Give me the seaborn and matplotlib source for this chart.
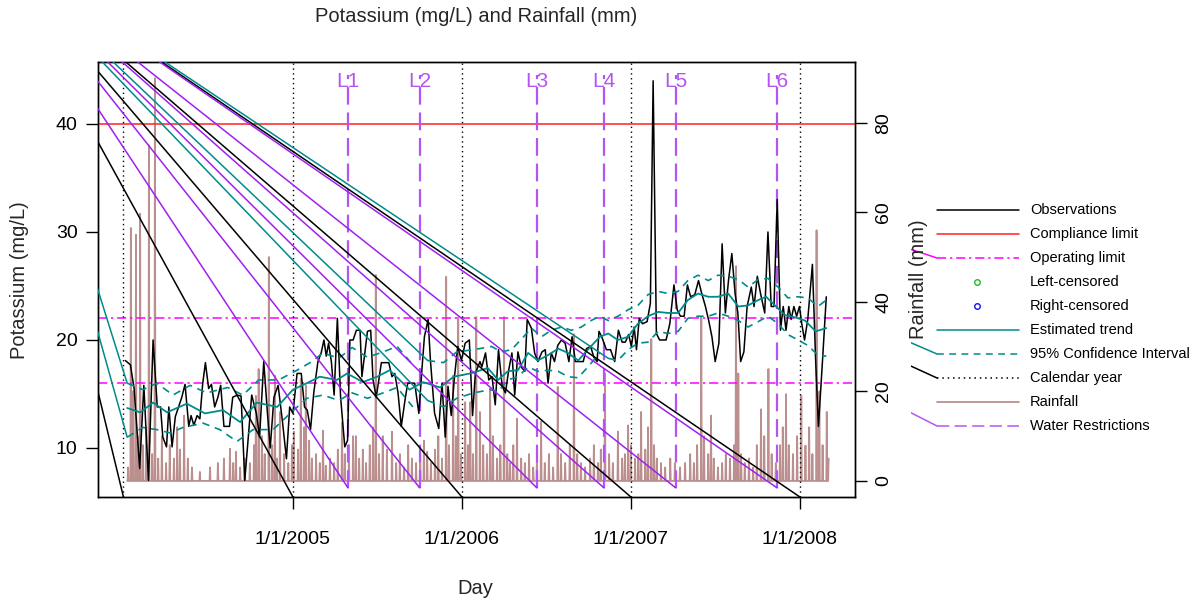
import numpy as np
import matplotlib
matplotlib.use("Agg")
import matplotlib.pyplot as plt
import seaborn as sns
from matplotlib.lines import Line2D
from matplotlib.transforms import Bbox, TransformedBbox

# x values are days counted from 1/1/2004
obs_day = [4, 15, 23, 35, 44, 54, 64, 73, 80, 85, 93, 98, 105, 112, 119, 126, 133, 141, 146, 152,
           159, 165, 171, 177, 184, 190, 197, 204, 210, 217, 229, 236, 246,
           254, 262, 277, 287, 294, 303, 311, 317, 325, 334, 343, 352, 359, 366, 375, 384, 391, 397,
           404, 411, 420, 427, 433, 438, 443, 449, 455, 462, 469, 478, 484, 489, 496, 503, 511,
           515, 527, 534, 539, 546, 557, 573, 580, 586, 593, 600, 609, 614, 629, 638, 645, 650, 658,
           663, 672, 681, 688, 695, 701, 708, 715, 722, 730, 738, 747, 754, 760, 770,
           774, 782, 789, 796, 803, 810, 818, 825, 832, 839, 845, 852, 859, 867, 872, 881, 888, 895,
           904, 911, 917, 924, 931, 938, 946, 954, 962, 969, 976, 993, 1000, 1009, 1016, 1023, 1027,
           1033, 1043, 1052, 1061, 1069, 1077, 1084, 1091, 1097, 1103, 1108, 1114, 1121, 1131, 1138,
           1144, 1151, 1158, 1172, 1180, 1189, 1196, 1203, 1211, 1218, 1225, 1234, 1242, 1249, 1257,
           1264, 1271, 1278, 1286,
           1293, 1300, 1307, 1314, 1321, 1327, 1333, 1340, 1347, 1356, 1362, 1369, 1376, 1385, 1392,
           1399, 1405, 1412, 1419, 1425, 1431, 1437, 1442, 1448, 1454, 1460, 1465, 1471, 1478, 1488,
           1495, 1501, 1509, 1518]
obs_k = [18.1, 17.7, 15.5, 8.1, 15.8, 7.0, 20.0, 13.8, 13.8, 11.0, 10.1, 13.8, 10.1, 12.9, 13.8, 14.7,
         15.9, 12.0, 13.0, 12.1, 13.0, 12.7, 15.9, 17.9, 15.5, 15.9, 13.8, 14.7, 15.8, 12.0, 12.0, 14.7, 14.9,
         14.8, 7.0, 14.9, 13.2, 11.0, 18.0, 13.2, 10.0, 14.7, 15.8, 12.6, 9.0, 13.8, 13.2, 16.9, 16.9, 13.8,
         13.5, 11.7, 15.1, 18.0, 18.8, 20.0, 18.5, 19.7, 18.0, 14.9, 22.0, 14.7, 10.1, 10.7, 20.0, 20.0,
         20.9, 20.9,
         16.6, 20.8, 20.9, 16.3, 14.7, 17.9, 17.9, 16.6, 16.9, 15.1, 12.0, 14.7, 16.0, 16.0, 13.2, 17.5,
         20.3, 21.9, 18.1, 13.2, 11.8, 16.0, 11.0, 15.7, 13.0, 16.6, 19.4, 18.1, 19.7, 20.0, 13.0, 16.9, 18.0,
         17.5, 18.8, 16.3, 16.6, 14.0, 19.1, 15.7, 15.1, 17.2, 18.8, 14.9, 18.9, 17.5, 17.1, 21.9, 21.1,
         18.8, 18.0, 18.9, 19.1, 16.0, 18.8, 18.0, 19.5, 20.0, 19.7, 18.0, 20.3, 18.0, 18.0, 19.2, 19.4,
         18.4, 18.0, 20.8,
         20.3, 19.1, 19.1, 18.0, 20.9, 19.8, 19.8, 20.5, 19.4, 21.2, 19.1, 22.0, 21.5, 21.7, 23.4, 44.0,
         20.6, 20.0, 20.0, 21.5, 25.1, 22.8, 22.2, 22.2, 25.1, 24.0, 24.2, 25.5, 24.3, 23.1, 21.8, 20.3,
         18.0, 19.7,
         28.9, 22.5, 25.6, 28.0, 24.3, 22.5, 18.0, 18.9, 23.1, 24.9, 23.1, 25.9, 24.3, 22.5, 30.0, 23.1,
         23.1, 33.0, 20.9, 23.1, 20.9, 23.1, 21.9, 23.1, 22.2, 23.1, 21.5, 20.0, 21.9, 27.0, 18.1, 12.0,
         17.5, 24.0]

trend_day = [8, 36, 64, 94, 137, 176, 215, 252, 288, 332, 366, 396, 424, 461, 483, 517, 548, 575, 618,
             647, 684, 713, 749, 787, 809, 830, 852, 874, 895, 917, 939, 960, 982, 1003, 1029, 1047, 1068,
             1090, 1111, 1133, 1155, 1176, 1198, 1219, 1241, 1263, 1284, 1306, 1328, 1349, 1371, 1388,
             1407, 1429, 1450, 1472, 1495, 1518]
trend_k = [13.7, 13.3, 14.2, 13.3, 14.1, 13.2, 13.5, 12.4, 14.2, 13.8, 15.4, 16.0, 16.6, 16.3, 16.9, 16.1,
           16.6, 17.2, 15.4, 16.1, 15.6, 16.6, 16.9, 17.4, 16.3, 17.1, 17.2, 18.8, 18.1, 18.6, 19.2, 18.8,
           18.1, 19.1, 20.3, 20.6, 20.0, 20.3, 21.5, 22.2, 22.6, 22.5, 22.5, 23.7, 24.3, 24.0, 24.0, 24.3,
           23.1, 23.2, 23.7, 24.0, 23.2, 22.3, 22.1, 21.8, 20.8, 21.1]

ci_up_day = [8, 42, 72, 107, 144, 180, 225, 258, 292, 335, 375, 403, 431, 465, 494, 527, 561, 591, 625,
             657, 691, 720, 756, 795, 816, 838, 860, 881, 903, 924, 946, 967, 989, 1010, 1029, 1047, 1068,
             1090, 1111, 1133, 1155, 1176, 1198, 1219, 1241, 1263, 1284, 1306, 1328, 1349, 1371, 1392,
             1414, 1435, 1457, 1478, 1500, 1518]
ci_up_k = [16.0, 15.4, 16.0, 14.9, 15.8, 15.1, 15.6, 14.9, 16.3, 16.3, 17.2, 17.9, 18.8, 18.3, 19.3, 18.4,
           18.9, 19.4, 17.7, 18.1, 17.9, 18.9, 19.1, 19.4, 18.9, 19.1, 20.1, 21.1, 20.3, 20.9, 21.2, 20.9,
           21.2, 21.8, 22.2, 21.8, 22.2, 22.8, 23.2, 24.2, 24.5, 24.3, 24.5, 25.5, 26.0, 25.5, 26.0, 25.9,
           25.6, 24.9, 25.6, 25.7, 24.9, 23.9, 24.0, 23.9, 23.1, 23.7]
ci_lo_day = [8, 42, 72, 100, 129, 172, 208, 245, 280, 323, 360, 396, 431, 465, 494, 527, 561, 591, 625,
             657, 691, 720, 756, 792, 809, 830, 852, 874, 895, 917, 939, 960, 982, 1003, 1029, 1047, 1068,
             1090, 1111, 1133, 1155, 1176, 1198, 1219, 1241, 1263, 1284, 1306, 1328, 1349, 1371, 1392,
             1414, 1435, 1457, 1478, 1500, 1518]
ci_lo_k = [11.0, 11.9, 11.7, 11.4, 11.9, 12.3, 11.7, 10.6, 11.7, 11.7, 13.2, 14.6, 14.9, 14.4, 15.1, 14.6,
           15.1, 15.6, 13.8, 14.4, 13.8, 14.6, 15.1, 15.4, 15.2, 16.3, 16.6, 17.5, 17.1, 17.2, 17.1, 16.6,
           16.5, 17.5, 18.8, 18.3, 18.1, 19.1, 19.7, 19.8, 20.8, 20.6, 20.8, 22.0, 22.2, 22.2, 22.5, 22.2,
           21.8, 21.2, 21.7, 22.2, 21.5, 20.5, 20.0, 19.5, 18.6, 18.5]
ci_up_breaks = [640]
ci_lo_breaks = [640, 1038]

rain_start, rain_end = 8, 1523
rain_day = [10, 16, 21, 27, 31, 36, 42, 49, 55, 62, 68, 75, 83, 92, 100, 109, 116, 122, 131, 139, 148,
            165, 187, 204, 217, 230, 237, 243, 252, 262, 273, 282, 286, 292, 299, 305, 314, 321, 327, 331,
            338, 347, 356, 364, 368, 377, 383, 390, 394, 401, 407, 416, 424, 431, 437, 446, 455, 463, 472,
            478, 487, 496, 502, 509, 517, 524, 532, 539, 545, 552, 560, 569, 580, 589, 597, 606, 615, 623,
            632, 641, 649, 656, 664, 673, 680, 688, 697, 703, 712, 718, 723, 729, 738, 744, 749, 755, 762,
            770, 777, 785, 792, 798, 807, 814, 822, 829, 835, 842, 850, 859, 867, 876, 885, 893, 902, 910,
            919, 928, 938, 945, 954, 964, 973, 980, 988, 997, 1008, 1016, 1025, 1031, 1040, 1049, 1057,
            1068, 1077, 1083, 1090, 1096, 1105, 1112, 1118, 1127, 1133, 1140, 1146, 1152, 1161, 1170,
            1181, 1191, 1202, 1213, 1224, 1232, 1239, 1248, 1254, 1263, 1269, 1275, 1284, 1293, 1301,
            1310, 1319, 1323, 1328, 1334, 1342, 1351, 1360, 1368, 1377, 1384, 1393, 1400, 1409, 1418,
            1424, 1431, 1437, 1446, 1455, 1464, 1473, 1481, 1488, 1497, 1503, 1510, 1519, 1523]
rain_mm = [3, 56.5, 20, 55, 10, 59.7, 8, 12, 75, 6, 90, 5, 10, 4, 8, 5, 12, 7, 14.6, 5, 3,
           2, 3, 4, 5, 7.2, 4, 6.5, 3, 5, 4, 8, 19, 25, 10, 6, 50, 8, 23.5, 5,
           15.4, 6, 4, 8, 11, 7, 22.8, 12, 21.3, 9, 5, 6, 4, 11.2, 3.4, 5, 4, 7, 13,
           6, 8, 10, 10, 5, 7, 4, 8, 12, 46, 6, 10, 7, 11, 4, 6, 3, 8, 5,
           4, 6, 9, 6.5, 4, 7, 10, 5, 45.6, 8, 23.5, 10, 36.6, 6, 17.6, 8, 17.6, 6, 36.6,
           15.4, 8, 6, 20.6, 10, 5, 8, 36.6, 6, 4, 8, 13.9, 5, 4, 6, 3, 5, 13.2, 4,
           6, 3, 21, 6, 4, 8, 32.8, 6, 4, 3, 5, 8, 4, 7, 24, 6, 4,
           11, 5, 6, 12.4, 8, 5, 6, 15.4, 7, 12, 31.7, 8, 5, 4, 3,
           5, 4, 3, 4, 6, 4, 8, 36.6, 10, 6, 14.6, 5, 3, 4, 6,
           5, 8, 48, 24, 6, 4, 5, 3, 8, 16, 10, 25, 6, 4, 8,
           12, 19.4, 8, 6, 10, 19, 7.9, 12, 6, 56, 20, 8, 15.4, 5]

year_day = [0, 366, 731, 1096, 1461]
year_tick_day = [366, 731, 1096, 1461]
year_tick_label = ["1/1/2005", "1/1/2006", "1/1/2007", "1/1/2008"]
wr_day = [485, 640, 893, 1038, 1193, 1412]
wr_label = ["L1", "L2", "L3", "L4", "L5", "L6"]
wr_bottom, wr_top = 6.3, 44.5
compliance_limit = 40
operating_limits = [16, 22]
pot_ticks = [10, 20, 30, 40]
rain_ticks = [0, 20, 40, 60, 80]
legend_labels = ["Observations", "Compliance limit", "Operating limit", "Left-censored",
                 "Right-censored", "Estimated trend", "95% Confidence Interval", "Calendar year",
                 "Rainfall", "Water Restrictions"]

W, H = 1198, 604
TEAL = "#008B8B"
PURPLE = "#A020F0"
WR_COL = "#B455F2"
MAGENTA = "#FF00FF"
RED = "#FF2020"
ROSY = "#BC8F8F"
DOT = (0, (1, 2.5))
DASH = (0, (4.5, 3.5))
WR_DASH = (0, (8, 3.5))
DASHDOT = (0, (6, 2.5, 1.5, 2.5))

sns.set_theme(style="white")
plt.rcParams["font.family"] = ["Liberation Sans", "DejaVu Sans"]

fig = plt.figure(figsize=(W / 100, H / 100), dpi=100)
ax = fig.add_axes([98 / W, 1 - 497 / H, 757 / W, 435 / H])
ax2 = ax.twinx()
ax.set_zorder(ax2.get_zorder() + 1)
ax.patch.set_visible(False)


def fxy(px, py):
    return px / W, 1 - py / H


# rainfall, daily values with dry days at zero
days = np.arange(rain_start, rain_end + 1)
daily = np.zeros(len(days))
daily[np.array(rain_day) - rain_start] = rain_mm
sns.lineplot(x=days, y=daily, ax=ax2, color=ROSY, linewidth=1.3, estimator=None)

ax.axhline(compliance_limit, color=RED, lw=1.1)
for lim in operating_limits:
    ax.axhline(lim, color=MAGENTA, lw=1.1, linestyle=DASHDOT)
for d in year_day:
    ax.axvline(d, color="black", lw=1.0, linestyle=DOT)
for d, lab in zip(wr_day, wr_label):
    ax.plot([d, d], [wr_bottom, wr_top], color=WR_COL, lw=1.6, linestyle=WR_DASH)
    ax.text(d, 43.9, lab, color=WR_COL, ha="center", va="center", fontsize=15)

sns.lineplot(x=obs_day, y=obs_k, ax=ax, color="black", linewidth=1.1, estimator=None, sort=False)
sns.lineplot(x=trend_day, y=trend_k, ax=ax, color=TEAL, linewidth=1.3, estimator=None, sort=False)

# the dashed lines pick up a stray stroke from a common point up-left of the plot
ox, oy = -289, 56.6


def connect(tx, ty, color):
    ax.plot([ox, tx], [oy, ty], color=color, lw=1.1, zorder=3)


for cd, ck, br in [(ci_up_day, ci_up_k, ci_up_breaks), (ci_lo_day, ci_lo_k, ci_lo_breaks)]:
    cd, ck = np.array(cd), np.array(ck)
    edges = [-np.inf] + br + [np.inf]
    for a, b in zip(edges[:-1], edges[1:]):
        m = (cd >= a) & (cd < b)
        sns.lineplot(x=cd[m], y=ck[m], ax=ax, color=TEAL, linewidth=1.2, linestyle=DASH,
                     estimator=None, sort=False)
        connect(cd[m][0], ck[m][0], TEAL)

ylo, yhi = 5.46, 45.74
for d in year_day:
    connect(d, ylo, "black")
for d in wr_day:
    connect(d, wr_bottom, PURPLE)

ax.set_xlim(-55, 1580)
ax.set_ylim(ylo, yhi)
ax2.set_ylim(-3.6, 93.6)
ax.set_xlabel("")
ax.set_ylabel("")
ax2.set_ylabel("")

ax.set_xticks(year_tick_day)
ax.set_xticklabels(year_tick_label)
ax.set_yticks(pot_ticks)
ax2.set_yticks(rain_ticks)
ax.tick_params(axis="x", bottom=True, length=8.6, width=1, pad=16, labelsize=14,
               color="black", labelcolor="black")
ax.tick_params(axis="y", left=True, length=8.6, width=1, pad=6, labelsize=14,
               color="black", labelcolor="black")
ax2.tick_params(axis="y", right=True, length=8.6, width=1, pad=6, labelsize=14,
                color="black", labelcolor="black", labelrotation=90)
for t in ax2.get_yticklabels():
    t.set_va("center")
for a in (ax, ax2):
    for s in a.spines.values():
        s.set_color("black")
        s.set_linewidth(1.0)

fig.text(*fxy(476, 17), "Potassium (mg/L) and Rainfall (mm)", ha="center", va="center", fontsize=14.5)
fig.text(*fxy(475, 588), "Day", ha="center", va="center", fontsize=14.5)
fig.text(*fxy(20, 280), "Potassium (mg/L)", ha="center", va="center", rotation=90, fontsize=14.5)
fig.text(*fxy(918, 279), "Rainfall (mm)", ha="center", va="center", rotation=90, fontsize=14.5)

# legend drawn by hand to the right of the plot
leg_styles = [
    dict(color="black"), dict(color=RED), dict(color=MAGENTA, linestyle=DASHDOT),
    dict(marker="o", color="#22BB22"), dict(marker="o", color="#1010EE"),
    dict(color=TEAL), dict(color=TEAL, linestyle=DASH), dict(color="black", linestyle=DOT),
    dict(color=ROSY, lw=1.3), dict(color=WR_COL, linestyle=WR_DASH),
]
o_fig = fxy(-10.5, -55.4)
clip = TransformedBbox(Bbox.from_extents(911 / W, 0, 1, 1), fig.transFigure)
for i, (lab, st) in enumerate(zip(legend_labels, leg_styles)):
    y = 210 + 24 * i
    if "marker" in st:
        x0, y0 = fxy(977, y)
        fig.add_artist(Line2D([x0], [y0], marker="o", markersize=4, markerfacecolor="none",
                              markeredgecolor=st["color"], markeredgewidth=1.0, linestyle="none"))
    else:
        (x0, y0), (x1, _) = fxy(937, y), fxy(1019, y)
        fig.add_artist(Line2D([x0, x1], [y0, y0], color=st["color"], lw=st.get("lw", 1.1),
                              linestyle=st.get("linestyle", "-")))
        if "linestyle" in st:
            ln = Line2D([o_fig[0], x0], [o_fig[1], y0], color=st["color"], lw=1.1)
            ln.set_clip_box(clip)
            ln.set_clip_on(True)
            fig.add_artist(ln)
    fig.text(*fxy(1030, y), lab, ha="left", va="center", fontsize=10.5, color="black")

fig.savefig("out.png", dpi=100)
